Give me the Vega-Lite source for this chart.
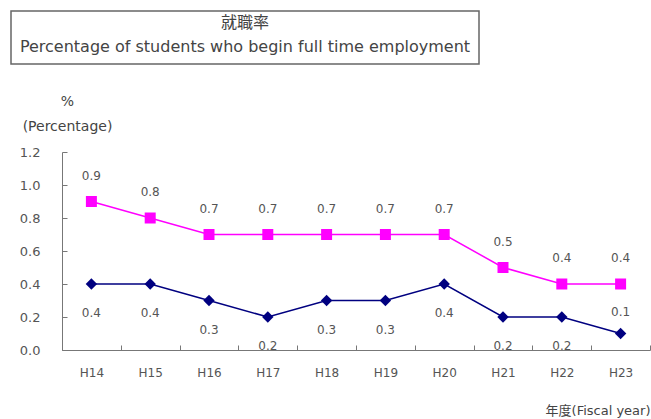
{
  "$schema": "https://vega.github.io/schema/vega-lite/v6.json",
  "padding": {"left": 10, "top": 10, "right": 1, "bottom": 2},
  "background": "white",
  "config": {
    "view": {"stroke": null},
    "font": "DejaVu Sans",
    "concat": {"spacing": 29}
  },
  "vconcat": [
    {
      "width": 468,
      "height": 53,
      "view": {"stroke": "#666666", "strokeWidth": 1.5},
      "data": {"values": [
        {"line": "a", "label": "就職率"},
        {"line": "b", "label": "Percentage of students who begin full time employment"}
      ]},
      "mark": {"type": "text", "fontSize": 16, "color": "#444444", "font": "DejaVu Sans, Noto Sans CJK JP"},
      "encoding": {
        "y": {"field": "line", "type": "nominal", "axis": null, "scale": {"type": "point", "range": [12, 36], "padding": 0}},
        "text": {"field": "label"}
      }
    },
    {
      "spacing": 0,
      "hconcat": [
        {
          "width": 8,
          "height": 1,
          "data": {"values": []},
          "mark": {"type": "text"},
          "encoding": {}
        },
        {
          "width": 588,
          "height": 198,
          "data": {"values": [
            {"year": "H14", "series": "A", "value": 0.9},
            {"year": "H15", "series": "A", "value": 0.8},
            {"year": "H16", "series": "A", "value": 0.7},
            {"year": "H17", "series": "A", "value": 0.7},
            {"year": "H18", "series": "A", "value": 0.7},
            {"year": "H19", "series": "A", "value": 0.7},
            {"year": "H20", "series": "A", "value": 0.7},
            {"year": "H21", "series": "A", "value": 0.5},
            {"year": "H22", "series": "A", "value": 0.4},
            {"year": "H23", "series": "A", "value": 0.4},
            {"year": "H14", "series": "B", "value": 0.4},
            {"year": "H15", "series": "B", "value": 0.4},
            {"year": "H16", "series": "B", "value": 0.3},
            {"year": "H17", "series": "B", "value": 0.2},
            {"year": "H18", "series": "B", "value": 0.3},
            {"year": "H19", "series": "B", "value": 0.3},
            {"year": "H20", "series": "B", "value": 0.4},
            {"year": "H21", "series": "B", "value": 0.2},
            {"year": "H22", "series": "B", "value": 0.2},
            {"year": "H23", "series": "B", "value": 0.1}
          ]},
          "encoding": {
            "x": {
              "field": "year", "type": "nominal", "sort": null,
              "scale": {"type": "band", "paddingInner": 0, "paddingOuter": 0},
              "axis": {
                "tickBand": "extent", "tickSize": -5, "labelPadding": 22, "labelAngle": 0,
                "labelColor": "#555555", "labelFontSize": 12, "domainColor": "#777777", "tickColor": "#777777",
                "title": "年度(Fiscal year)", "titleAnchor": "end", "titleAlign": "right",
                "titlePadding": 26, "titleFontWeight": "normal", "titleFontSize": 13, "titleColor": "#444444",
                "titleFont": "DejaVu Sans, Noto Sans CJK JP"
              }
            },
            "y": {
              "field": "value", "type": "quantitative",
              "scale": {"domain": [0, 1.2]},
              "axis": {
                "values": [0, 0.2, 0.4, 0.6, 0.8, 1.0, 1.2], "format": ".1f", "grid": false,
                "domainColor": "#777777", "tickColor": "#777777", "tickSize": -5, "labelPadding": 27,
                "labelColor": "#555555", "labelFontSize": 13,
                "title": ["%", "(Percentage)"], "titleAngle": 0, "titleAlign": "center", "titleBaseline": "bottom",
                "titleX": 5, "titleY": -44, "titleFontWeight": "normal", "titleFontSize": 14,
                "titleColor": "#444444", "titleLineHeight": 25
              }
            },
            "color": {"field": "series", "type": "nominal", "scale": {"domain": ["A", "B"], "range": ["#FF00FF", "#000080"]}, "legend": null}
          },
          "layer": [
            {"mark": {"type": "line", "strokeWidth": 1.5}},
            {"transform": [{"filter": "datum.series == 'A'"}], "mark": {"type": "point", "shape": "square", "filled": true, "opacity": 1, "size": 121}},
            {"transform": [{"filter": "datum.series == 'B'"}], "mark": {"type": "point", "shape": "diamond", "filled": true, "opacity": 1, "size": 130}},
            {"transform": [{"filter": "datum.series == 'A'"}], "mark": {"type": "text", "dy": -26, "fontSize": 12}, "encoding": {"text": {"field": "value", "format": ".1f"}, "color": {"value": "#555555"}}},
            {"transform": [{"filter": "datum.series == 'B' && datum.year != 'H23'"}], "mark": {"type": "text", "dy": 29, "fontSize": 12}, "encoding": {"text": {"field": "value", "format": ".1f"}, "color": {"value": "#555555"}}},
            {"transform": [{"filter": "datum.series == 'B' && datum.year == 'H23'"}], "mark": {"type": "text", "dy": -22, "fontSize": 12}, "encoding": {"text": {"field": "value", "format": ".1f"}, "color": {"value": "#555555"}}}
          ]
        }
      ]
    }
  ]
}
